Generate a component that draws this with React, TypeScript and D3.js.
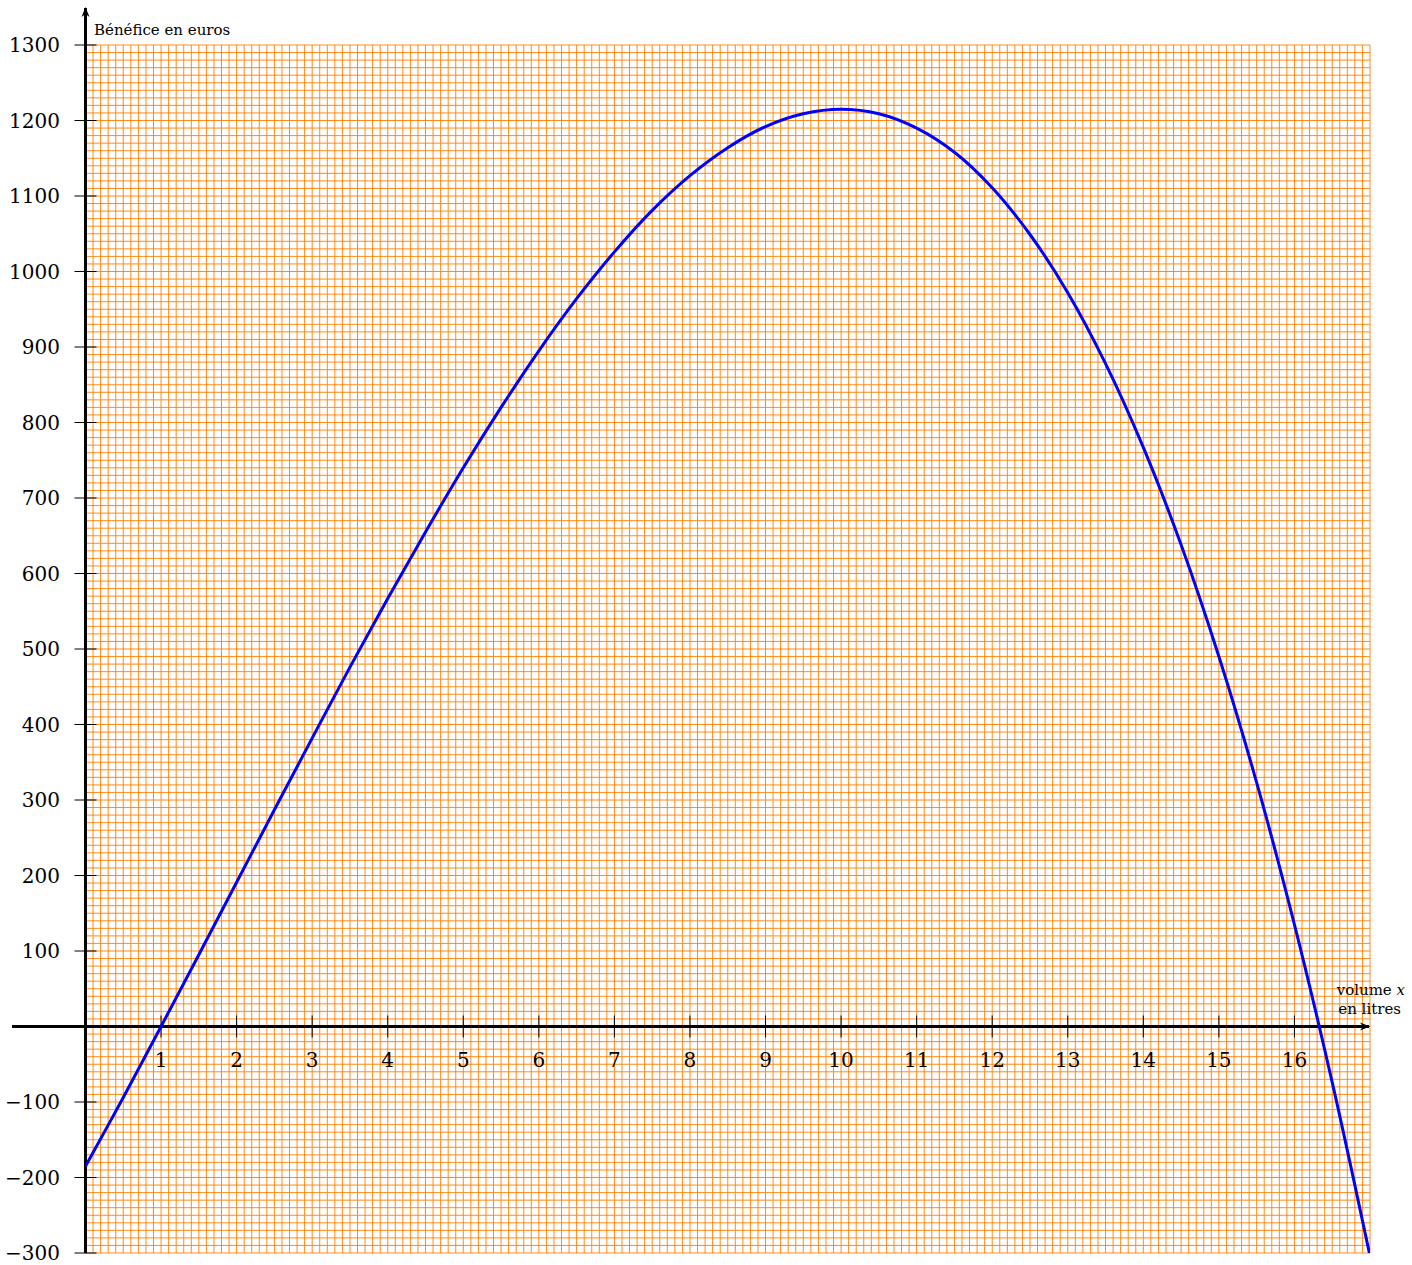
import React from 'react';
import * as d3 from 'd3';

// volume x (litres)
const volumes = [0, 0.5, 1, 1.5, 2, 2.5, 3, 3.5, 4, 4.5, 5, 5.5, 6, 6.5, 7, 7.5, 8, 8.5, 9, 9.5, 10, 10.5, 11, 11.5, 12, 12.5, 13, 13.5, 14, 14.5, 15, 15.5, 16, 16.5, 17];
// bénéfice en euros
const benefits = [-185, -94, 0, 95, 191, 287, 382, 476, 567, 655, 740, 820, 895, 964, 1026, 1081, 1127, 1164, 1192, 1209, 1215, 1209, 1190, 1158, 1111, 1049, 972, 878, 767, 638, 490, 323, 135, -74, -304];

const xTicks = [1, 2, 3, 4, 5, 6, 7, 8, 9, 10, 11, 12, 13, 14, 15, 16];
const yTicks = [-300, -200, -100, 100, 200, 300, 400, 500, 600, 700, 800, 900, 1000, 1100, 1200, 1300];

const W = 1412;
const H = 1265;

export default function App() {
  const x = d3.scaleLinear().domain([0, 17]).range([85.5, 1370]);
  const y = d3.scaleLinear().domain([-300, 1300]).range([1253, 45]);

  const gridX = d3.range(0, 171).map(i => i / 10);
  const gridY = d3.range(-30, 131).map(i => i * 10);

  const pts: [number, number][] = volumes.map((v, i) => [v, benefits[i]]);
  const line = d3.line<[number, number]>()
    .x(d => x(d[0]))
    .y(d => y(d[1]))
    .curve(d3.curveCatmullRom.alpha(0.5));

  const font = '"DejaVu Serif", serif';
  const x0 = x(0);
  const y0 = y(0);

  return (
    <svg width={W} height={H} style={{ position: 'absolute', left: 0, top: 0, display: 'block', background: '#fff' }}>
      <defs>
        <clipPath id="plot">
          <rect x={x(0)} y={y(1300)} width={x(17) - x(0)} height={y(-300) - y(1300)} />
        </clipPath>
        <marker id="arr" viewBox="0 0 10 10" refX="9" refY="5" markerWidth="10" markerHeight="10" orient="auto" markerUnits="userSpaceOnUse">
          <path d="M0,1 L10,5 L0,9 L3,5 Z" fill="#000" />
        </marker>
      </defs>

      {/* grid */}
      <g stroke="#ff8000" strokeWidth={0.9}>
        {gridX.map(v => (
          <line key={'gx' + v} x1={x(v)} x2={x(v)} y1={y(-300)} y2={y(1300)} />
        ))}
        {gridY.map(v => (
          <line key={'gy' + v} x1={x(0)} x2={x(17)} y1={y(v)} y2={y(v)} />
        ))}
      </g>

      {/* axes */}
      <line x1={12} x2={1369} y1={y0} y2={y0} stroke="#000" strokeWidth={3} markerEnd="url(#arr)" />
      <line x1={x0} x2={x0} y1={y(-300)} y2={8} stroke="#000" strokeWidth={3} markerEnd="url(#arr)" />

      {/* ticks */}
      <g stroke="#000" strokeWidth={1}>
        {xTicks.map(t => (
          <line key={'tx' + t} x1={x(t)} x2={x(t)} y1={y0 - 11} y2={y0 + 11} />
        ))}
        {yTicks.map(t => (
          <line key={'ty' + t} x1={x0 - 11} x2={x0 + 11} y1={y(t)} y2={y(t)} />
        ))}
      </g>

      {/* tick labels */}
      <g fontFamily={font} fontSize={20} fill="#000">
        {xTicks.map(t => (
          <text key={'lx' + t} x={x(t)} y={y0 + 40} textAnchor="middle">{t}</text>
        ))}
        {yTicks.map(t => (
          <text key={'ly' + t} x={60} y={y(t) + 7} textAnchor="end">{t < 0 ? '\u2212' + Math.abs(t) : String(t)}</text>
        ))}
      </g>

      {/* axis titles */}
      <text x={94} y={35} fontFamily={font} fontSize={15} fill="#000">Bénéfice en euros</text>
      <text x={1405} y={995} fontFamily={font} fontSize={15} fill="#000" textAnchor="end">
        volume <tspan fontStyle="italic">x</tspan>
      </text>
      <text x={1401} y={1014} fontFamily={font} fontSize={15} fill="#000" textAnchor="end">en litres</text>

      {/* curve */}
      <path d={line(pts) || ''} fill="none" stroke="#0000ff" strokeWidth={3} clipPath="url(#plot)" />
    </svg>
  );
}
